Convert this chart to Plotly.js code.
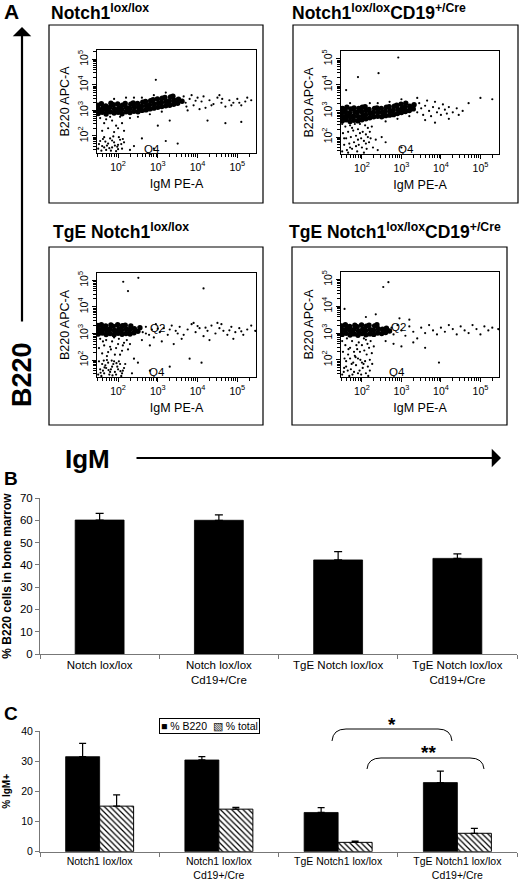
<!DOCTYPE html>
<html><head><meta charset="utf-8">
<script src="https://cdn.plot.ly/plotly-3.0.1.min.js"></script>
<style>html,body{margin:0;padding:0;background:#fff}#chart{width:520px;height:886px}</style>
</head><body><div id="chart"></div>
<script>
// ---------- DATA (flow events in log10 units) ----------
const a1DenseX = [1.50,1.52,1.49,1.60,1.62,1.58,1.70,1.71,1.69,1.80,1.79,1.82,1.90,1.91,1.88,2.00,2.02,1.99,2.10,2.09,2.11,2.20,2.21,2.18,2.30,2.29,2.32,2.40,2.41,2.38,2.50,2.52,2.49,2.60,2.59,2.62,2.70,2.71,2.69,2.80,2.79,2.82,2.90,2.91,2.88,3.00,3.02,2.99,3.10,3.09,3.11,3.20,3.21,3.18,3.30,3.29,3.32,3.40,3.41,3.38,3.50,3.52,3.61];
const a1DenseY = [2.88,3.04,3.20,2.93,3.10,3.26,2.86,3.02,3.18,2.95,3.12,3.28,2.90,3.06,3.22,2.93,3.09,3.25,2.87,3.04,3.20,2.95,3.11,3.27,2.92,3.08,3.24,2.97,3.13,3.29,2.95,3.11,3.27,3.00,3.16,3.32,3.02,3.18,3.35,3.06,3.22,3.38,3.09,3.25,3.42,3.12,3.28,3.45,3.15,3.31,3.48,3.18,3.34,3.51,3.20,3.37,3.53,3.24,3.40,3.56,3.28,3.44,3.36];
const a1EventX = [3.70,3.80,3.90,4.00,4.10,4.20,4.30,4.40,4.50,4.60,4.70,4.80,4.90,5.00,5.10,5.20,5.35,3.75,4.05,4.55,3.85,4.25,4.70,5.10,3.30,3.00,
 3.65,3.72,3.95,4.15,4.35,4.62,4.85,5.05,5.25,
 2.30,2.50,2.80,3.10,2.60,2.90,3.20,2.40,1.90,2.20,
 1.55,1.65,1.75,1.85,1.95,2.05,2.15,1.60,1.80,2.00,1.70,1.90,2.10,
 1.50,1.55,1.60,1.65,1.70,1.75,1.80,1.85,1.90,1.95,2.00,2.05,2.10,2.15,1.58,1.68,1.78,1.88,1.98,2.08,1.52,1.62,1.72,1.82,1.92,2.02,2.12,1.65,1.85,2.00,
 2.40,2.60,2.90,3.20,2.30,3.50,2.95];
const a1EventY = [3.30,3.45,3.20,3.50,3.35,3.10,3.40,3.25,3.50,3.30,3.15,3.40,3.30,3.45,3.20,3.35,3.40,3.00,3.05,3.60,3.60,2.60,2.50,2.55,2.60,2.40,
 3.55,3.15,3.38,3.55,3.20,3.45,3.20,3.30,3.50,
 2.70,2.75,2.85,2.95,3.50,3.60,3.70,3.50,3.45,3.50,
 2.70,2.50,2.30,2.60,2.40,2.75,2.20,2.20,2.75,2.30,2.65,2.15,2.50,
 1.50,1.80,1.60,1.95,1.45,1.70,1.90,1.55,1.75,1.40,1.65,1.85,1.50,1.75,1.42,1.78,1.52,1.98,1.58,1.68,1.68,1.88,1.62,1.42,1.62,1.95,1.88,1.55,1.82,1.48,
 1.60,1.90,1.50,1.80,1.45,1.70,4.20];

const a2DenseX = [1.50,1.52,1.49,1.51,1.60,1.61,1.58,1.62,1.70,1.71,1.69,1.72,1.80,1.79,1.82,1.80,1.90,1.91,1.88,1.92,2.00,2.02,1.99,2.01,2.10,2.09,2.11,2.08,2.20,2.21,2.18,2.30,2.29,2.32,2.40,2.41,2.38,2.50,2.52,2.49,2.60,2.59,2.62,2.70,2.71,2.69,2.80,2.79,2.82,2.90,2.91,2.88,3.00,3.02,2.99,3.10,3.09,3.11,3.20,3.21,3.30,3.32];
const a2DenseY = [2.62,2.78,2.94,3.10,2.66,2.82,2.98,3.14,2.60,2.76,2.92,3.08,2.64,2.80,2.96,3.12,2.62,2.78,2.94,3.10,2.66,2.82,2.98,3.14,2.70,2.86,3.02,3.16,2.74,2.90,3.06,2.78,2.94,3.10,2.80,2.96,3.12,2.78,2.94,3.10,2.82,2.98,3.14,2.84,3.00,3.16,2.86,3.02,3.18,2.90,3.06,3.22,2.94,3.10,3.26,2.98,3.14,3.30,3.02,3.18,3.08,3.24];
const a2EventX = [3.40,3.45,3.50,3.55,3.60,3.65,3.70,3.75,3.80,3.85,3.90,3.95,4.00,4.05,4.10,4.15,4.20,4.30,4.40,4.45,4.55,3.60,3.85,4.20,5.00,5.30,4.70,
 2.92,2.42,1.90,1.60,
 2.40,2.70,3.00,2.20,1.70,2.60,2.90,3.20,3.40,
 1.50,1.55,1.60,1.65,1.70,1.75,1.80,1.85,1.90,1.95,2.00,2.05,2.10,2.15,1.52,1.58,1.62,1.68,1.72,1.78,1.82,1.88,1.92,1.98,2.02,2.08,2.12,2.18,1.55,1.65,1.75,1.85,1.95,2.05,2.15,1.50,1.70,1.90,2.10,2.20,2.25,2.28,2.22,
 2.40,2.60,2.50,3.00,2.35];
const a2EventY = [2.95,3.30,3.10,2.85,3.20,3.40,3.00,2.80,3.15,3.35,2.95,3.10,2.85,3.25,3.05,2.90,3.15,2.95,3.10,2.85,3.00,2.65,2.55,2.70,3.50,3.45,3.30,
 5.05,4.45,4.30,3.80,
 3.30,3.35,3.45,3.30,3.30,2.60,2.70,2.80,3.50,
 1.45,1.70,1.95,2.20,2.45,1.55,1.80,2.05,2.30,2.50,1.60,1.85,2.10,2.35,2.15,2.40,1.50,1.75,2.00,2.25,2.50,1.45,1.70,1.95,2.20,2.45,1.55,1.80,1.95,1.40,2.35,1.65,2.15,1.40,2.00,2.50,1.60,1.90,1.75,2.20,2.40,1.60,1.95,
 1.50,1.80,2.00,1.60,1.90];

const a3DenseX = [1.50,1.52,1.49,1.60,1.61,1.58,1.70,1.71,1.69,1.80,1.79,1.82,1.90,1.91,1.88,2.00,2.02,1.99,2.10,2.09,2.11,2.20,2.21,2.18,2.30,2.29,2.32,2.40,2.41,2.50,2.55];
const a3DenseY = [2.98,3.14,3.30,3.02,3.18,3.33,2.96,3.12,3.28,3.00,3.16,3.32,2.95,3.11,3.27,3.01,3.17,3.33,2.97,3.13,3.29,3.00,3.16,3.31,2.98,3.14,3.28,3.03,3.18,3.08,3.22];
const a3EventX = [2.62,2.70,2.78,2.85,2.95,3.05,3.15,3.25,3.35,3.45,3.55,3.65,3.75,3.85,3.95,4.05,4.15,4.25,4.35,4.45,4.55,4.65,4.75,4.85,4.95,5.05,5.15,5.25,5.35,5.45,3.10,3.60,4.30,4.90,2.80,3.40,4.50,3.90,2.70,2.90,2.60,
 3.00,3.50,4.00,4.60,5.10,3.30,4.20,4.80,
 1.55,1.65,1.75,1.85,1.95,2.05,2.15,1.60,1.70,1.80,1.90,2.00,2.10,1.52,1.62,1.72,1.82,1.92,2.02,2.12,2.22,2.25,2.30,
 1.50,1.55,1.60,1.65,1.70,1.75,1.80,1.85,1.90,1.95,2.00,2.05,2.10,2.15,1.52,1.58,1.62,1.68,1.72,1.78,1.82,1.88,1.92,1.98,2.02,2.08,2.12,2.18,1.56,1.66,1.76,1.86,1.96,2.06,1.64,1.84,
 2.35,2.50,2.80,3.30,4.10,3.80,2.40,
 2.13,2.51,4.15,2.25];
const a3EventY = [3.05,3.25,2.95,3.15,3.35,3.05,3.20,2.95,3.30,3.10,3.25,2.95,3.15,3.35,3.05,3.20,2.90,3.10,3.30,3.00,3.20,3.10,2.95,3.25,3.05,3.20,2.95,3.15,3.30,3.10,2.70,2.80,2.75,2.80,2.55,2.60,3.40,3.40,3.00,2.85,2.75,
 3.18,3.00,3.28,3.35,3.08,3.15,3.22,3.12,
 2.80,2.55,2.30,2.70,2.45,2.20,2.65,2.25,2.75,2.50,2.85,2.60,2.35,2.45,2.70,2.15,2.40,2.20,2.80,2.55,2.75,2.40,2.60,
 1.45,1.65,1.85,1.50,1.70,1.90,1.55,1.75,1.95,1.45,1.65,1.85,1.50,1.70,1.95,1.40,1.60,1.80,2.00,1.45,1.65,1.85,1.55,1.75,1.95,1.40,1.60,1.85,1.52,1.72,1.62,1.42,1.88,1.58,1.98,1.98,
 1.50,1.90,1.60,1.75,1.90,2.05,2.05,
 4.95,5.10,4.70,4.60];

const a4DenseX = [1.50,1.52,1.49,1.60,1.61,1.58,1.70,1.71,1.69,1.80,1.79,1.82,1.90,1.91,1.88,2.00,2.02,1.99,2.10,2.09,2.11,2.20,2.21,2.18,2.30,2.29,2.32,2.40,2.41,2.38,2.50,2.52,2.60,2.62,2.70];
const a4DenseY = [2.95,3.11,3.27,2.99,3.15,3.31,2.93,3.09,3.25,2.97,3.13,3.29,2.92,3.08,3.24,2.98,3.14,3.30,2.94,3.10,3.26,2.97,3.13,3.29,2.95,3.11,3.27,3.00,3.16,3.31,2.98,3.14,3.02,3.18,3.08];
const a4EventX = [1.50,1.55,1.60,1.65,1.70,1.75,1.80,1.85,1.90,1.95,2.00,2.05,2.10,2.15,2.20,2.25,1.52,1.58,1.62,1.68,1.72,1.78,1.82,1.88,1.92,1.98,2.02,2.08,2.12,2.18,2.22,1.54,1.64,1.74,1.84,1.94,2.04,2.14,1.56,1.66,1.76,1.86,1.96,2.06,2.16,1.60,1.80,2.00,2.20,1.70,1.90,2.10,1.50,2.26,2.30,
 2.75,2.80,2.90,3.00,3.10,3.20,3.30,3.40,3.50,3.60,3.70,3.80,3.90,4.00,4.10,4.20,4.30,4.40,4.50,4.60,4.70,4.80,4.90,5.00,5.10,5.20,5.30,5.45,2.80,3.00,3.30,3.60,2.60,3.20,2.95,
 2.54,2.67,1.56,2.35,2.10,3.95];
const a4EventY = [1.45,1.70,1.95,2.20,2.45,2.70,1.55,1.80,2.05,2.30,2.55,2.80,1.50,1.75,2.00,2.25,2.30,2.55,2.80,1.40,1.65,1.90,2.15,2.40,2.65,1.45,1.70,1.95,2.20,2.45,2.70,1.55,1.60,1.85,2.10,1.60,1.85,2.60,2.05,2.40,1.45,2.55,2.00,2.35,1.40,1.75,2.30,1.90,1.60,2.05,1.50,2.75,2.70,1.85,2.50,
 3.20,2.95,3.30,3.10,2.90,3.25,3.05,2.80,3.20,3.00,3.30,3.10,2.95,3.20,3.05,3.30,3.15,2.95,3.25,3.10,3.00,3.30,3.15,2.95,3.25,3.10,3.20,3.15,2.60,2.50,2.65,2.45,2.70,3.50,3.55,
 4.72,4.90,3.90,3.70,3.60,1.90];

// gates (log10 units)
const gateX = [2.18, 2.18, 2.20, 2.19];
const gateY = [2.08, 2.15, 2.15, 2.15];
const titlesA = ['Notch1<sup>lox/lox</sup>', 'Notch1<sup>lox/lox</sup>CD19<sup>+/Cre</sup>',
                 'TgE Notch1<sup>lox/lox</sup>', 'TgE Notch1<sup>lox/lox</sup>CD19<sup>+/Cre</sup>'];
const flowTickVals = [1e2, 1e3, 1e4, 1e5];
const flowTickText = ['10<sup>2</sup>', '10<sup>3</sup>', '10<sup>4</sup>', '10<sup>5</sup>'];

// Panel B
const catsB = ['Notch lox/lox', 'Notch lox/lox<br>Cd19+/Cre', 'TgE Notch lox/lox', 'TgE Notch lox/lox<br>Cd19+/Cre'];
const valsB = [60.1, 60.0, 42.2, 42.9];
const errB  = [3.0, 2.4, 3.7, 2.0];

// Panel C
const catsC = ['Notch1 lox/lox', 'Notch1 lox/lox<br>Cd19+/Cre', 'TgE Notch1 lox/lox', 'TgE Notch1 lox/lox<br>Cd19+/Cre'];
const b220C = [31.5, 30.4, 13.0, 22.9];
const b220Err = [4.4, 1.1, 1.6, 3.8];
const totalC = [15.1, 14.1, 3.1, 6.1];
const totalErr = [3.7, 0.6, 0.4, 1.6];
const zeros = [0, 0, 0, 0];

// ---------- LAYOUT HELPERS ----------
const W = 520, H = 886;
const FONT = '"Liberation Sans", Arial, Helvetica, sans-serif';
const px = v => v / W, py = v => 1 - v / H;
const P = (x, y) => px(x).toFixed(5) + ',' + py(y).toFixed(5);
const pow10 = a => a.map(v => Math.pow(10, v));
const minorTicks = [];
for (let e = 1; e <= 5; e++) for (let m = 2; m <= 9; m++) minorTicks.push(m * Math.pow(10, e));

const panels = [
  {n:'',  dX:a1DenseX, dY:a1DenseY, eX:a1EventX, eY:a1EventY, xd:[97,256],  yd:[50,153],  yr:[1.33,5.37], frame:[49,25,263,203],  tx:49,  ty:12},
  {n:'2', dX:a2DenseX, dY:a2DenseY, eX:a2EventX, eY:a2EventY, xd:[341,499], yd:[51,154],  yr:[1.35,5.30], frame:[293,25,518,203], tx:290, ty:12},
  {n:'3', dX:a3DenseX, dY:a3DenseY, eX:a3EventX, eY:a3EventY, xd:[97,256],  yd:[273,377], yr:[1.36,5.28], frame:[49,247,263,425], tx:51,  ty:231},
  {n:'4', dX:a4DenseX, dY:a4DenseY, eX:a4EventX, eY:a4EventY, xd:[341,499], yd:[272,377], yr:[1.36,5.28], frame:[292,247,507,425], tx:287, ty:231}
];

const traces = [];
const layout = {
  width: W, height: H, margin: {l:0, r:0, t:0, b:0},
  paper_bgcolor: '#fff', plot_bgcolor: '#fff', showlegend: false,
  font: {family: FONT, color: '#000'},
  barmode: 'group', bargap: 0.43, bargroupgap: 0,
  shapes: [], annotations: []
};

panels.forEach((p, i) => {
  const xa = 'x' + p.n, ya = 'y' + p.n;
  traces.push({type:'scatter', mode:'markers', x: pow10(p.eX), y: pow10(p.eY), xaxis: xa, yaxis: ya,
    marker: {size: 2.2, color: '#000'}, hoverinfo: 'skip'});
  traces.push({type:'scatter', mode:'markers', x: pow10(p.dX), y: pow10(p.dY), xaxis: xa, yaxis: ya,
    marker: {size: 5.4, color: '#000'}, hoverinfo: 'skip'});
  const common = {type:'log', ticks:'outside', ticklen:4, tickwidth:1, tickcolor:'#000',
    showline:true, linecolor:'#000', linewidth:1.2, mirror:true, showgrid:false, zeroline:false,
    tickvals: flowTickVals, ticktext: flowTickText,
    tickfont: {family: FONT, size: 10.5, color: '#000'},
    minor: {tickvals: minorTicks, ticks:'outside', ticklen:2.5, tickwidth:1, tickcolor:'#000', showgrid:false}};
  layout['xaxis' + p.n] = Object.assign({}, common, {
    domain: [px(p.xd[0]), px(p.xd[1])], anchor: ya, range: [1.47, 5.47],
    title: {text: 'IgM PE-A', font: {family: FONT, size: 12.5, color: '#000'}, standoff: 7}
  });
  layout['yaxis' + p.n] = Object.assign({}, common, {
    domain: [py(p.yd[1]), py(p.yd[0])], anchor: xa, range: p.yr, tickangle: -90,
    title: {text: 'B220 APC-A', font: {family: FONT, size: 12.5, color: '#000'}, standoff: 3}
  });
  // gates
  layout.shapes.push({type:'line', xref: xa, yref: ya + ' domain', x0: gateX[i], x1: gateX[i], y0: 0, y1: 1, line: {color:'#000', width: 1.2}});
  layout.shapes.push({type:'line', xref: xa + ' domain', yref: ya, x0: 0, x1: 1, y0: gateY[i], y1: gateY[i], line: {color:'#000', width: 1.2}});
  // frame
  const f = p.frame;
  layout.shapes.push({type:'rect', xref:'paper', yref:'paper', x0: px(f[0]), x1: px(f[2]), y0: py(f[3]), y1: py(f[1]), line: {color:'#000', width: 1.2}});
  // title
  layout.annotations.push({xref:'paper', yref:'paper', x: px(p.tx), y: py(p.ty), xanchor:'left', yanchor:'middle',
    text: '<b>' + titlesA[i] + '</b>', showarrow: false, font: {family: FONT, size: 17.5, color: '#000'}});
});

// quadrant labels
const qlab = [
  ['x','y', 2.85, 1.47, 'Q4'],
  ['x2','y2', 3.12, 1.55, 'Q4'],
  ['x3','y3', 2.98, 3.20, 'Q2'], ['x3','y3', 2.98, 1.56, 'Q4'],
  ['x4','y4', 2.93, 3.22, 'Q2'], ['x4','y4', 2.89, 1.56, 'Q4']
];
qlab.forEach(q => layout.annotations.push({xref: q[0], yref: q[1], x: q[2], y: q[3], text: q[4], showarrow: false,
  xanchor:'center', yanchor:'middle', font: {family: FONT, size: 11.5, color: '#000'}}));

// Panel B
traces.push({type:'bar', x: catsB, y: valsB, xaxis:'x5', yaxis:'y5', width: 0.41,
  marker: {color:'#000', line: {color:'#000', width: 0.8}},
  error_y: {type:'data', symmetric:false, array: errB, arrayminus: zeros, color:'#000', thickness: 1.2, width: 4}});
layout.xaxis5 = {domain: [px(40), px(517)], anchor:'y5', type:'category', tickson:'boundaries',
  ticks:'outside', ticklen:4, tickcolor:'#777', showline:true, linecolor:'#777', linewidth:1,
  showgrid:false, zeroline:false, tickfont: {family: FONT, size: 11.5, color:'#000'}};
layout.yaxis5 = {domain: [py(654), py(498)], anchor:'x5', range:[0, 70], dtick: 10,
  ticks:'outside', ticklen:4, tickcolor:'#777', showline:true, linecolor:'#777', linewidth:1,
  showgrid:false, zeroline:false, tickfont: {family: FONT, size: 11.5, color:'#000'},
  title: {text:'<b>% B220 cells in bone marrow</b>', font: {family: FONT, size: 12, color:'#000'}, standoff: 6}};

// Panel C
traces.push({type:'bar', name:'% B220', x: catsC, y: b220C, xaxis:'x6', yaxis:'y6',
  marker: {color:'#000', line: {color:'#000', width: 0.8}},
  error_y: {type:'data', symmetric:false, array: b220Err, arrayminus: zeros, color:'#000', thickness: 1.2, width: 3.5}});
traces.push({type:'bar', name:'% total', x: catsC, y: totalC, xaxis:'x6', yaxis:'y6',
  marker: {color:'#fff', line: {color:'#000', width: 1},
    pattern: {shape:'\\', fgcolor:'#000', bgcolor:'#fff', size: 4, solidity: 0.3}},
  error_y: {type:'data', symmetric:false, array: totalErr, arrayminus: zeros, color:'#000', thickness: 1.2, width: 3.5}});
layout.xaxis6 = {domain: [px(40), px(517)], anchor:'y6', type:'category', tickson:'boundaries',
  ticks:'outside', ticklen:4, tickcolor:'#777', showline:true, linecolor:'#777', linewidth:1,
  showgrid:false, zeroline:false, tickfont: {family: FONT, size: 10.5, color:'#000'}};
layout.yaxis6 = {domain: [py(851.7), py(731)], anchor:'x6', range:[0, 40], dtick: 10,
  ticks:'outside', ticklen:4, tickcolor:'#777', showline:true, linecolor:'#777', linewidth:1,
  showgrid:false, zeroline:false, tickfont: {family: FONT, size: 10.5, color:'#000'},
  title: {text:'<b>% IgM+</b>', font: {family: FONT, size: 10, color:'#000'}, standoff: 8}};

// significance brackets
layout.shapes.push({type:'path', xref:'paper', yref:'paper', line:{color:'#000', width:1},
  path: 'M ' + P(332,741) + ' Q ' + P(333,729) + ' ' + P(346,729) + ' L ' + P(438,729) + ' Q ' + P(451,729) + ' ' + P(452,741)});
layout.shapes.push({type:'path', xref:'paper', yref:'paper', line:{color:'#000', width:1},
  path: 'M ' + P(367,769) + ' Q ' + P(368,758) + ' ' + P(381,758) + ' L ' + P(470,758) + ' Q ' + P(483,758) + ' ' + P(484,769)});

const ann = (x, y, text, size, extra) => Object.assign({xref:'paper', yref:'paper', x: px(x), y: py(y), text: text,
  xanchor:'center', yanchor:'middle', showarrow: false, font: {family: FONT, size: size, color:'#000'}}, extra || {});
layout.annotations.push(
  ann(2, 11, '<b>A</b>', 21, {xanchor:'left'}),
  ann(2, 479, '<b>B</b>', 19, {xanchor:'left'}),
  ann(2, 713, '<b>C</b>', 19, {xanchor:'left'}),
  ann(22, 375, '<b>B220</b>', 27, {textangle: -90}),
  ann(87, 459, '<b>IgM</b>', 26),
  ann(392, 724, '<b>*</b>', 19),
  ann(428, 752, '<b>**</b>', 19),
  ann(159, 718, '■ % B220  ▧ % total', 10.5, {xanchor:'left', yanchor:'top', bordercolor:'#000', borderwidth:1, borderpad:1}),
  // axis arrows
  {xref:'paper', yref:'paper', x: px(22), y: py(27), ax: 0, ay: 296, axref:'pixel', ayref:'pixel', text:'',
    showarrow:true, arrowhead:1, arrowsize:1.4, arrowwidth:2.2, arrowcolor:'#000', standoff:0},
  {xref:'paper', yref:'paper', x: px(501), y: py(458), ax: -366, ay: 0, axref:'pixel', ayref:'pixel', text:'',
    showarrow:true, arrowhead:1, arrowsize:1.4, arrowwidth:2.2, arrowcolor:'#000', standoff:0}
);

Plotly.newPlot('chart', traces, layout, {staticPlot: true, displayModeBar: false});
</script>
</body></html>
